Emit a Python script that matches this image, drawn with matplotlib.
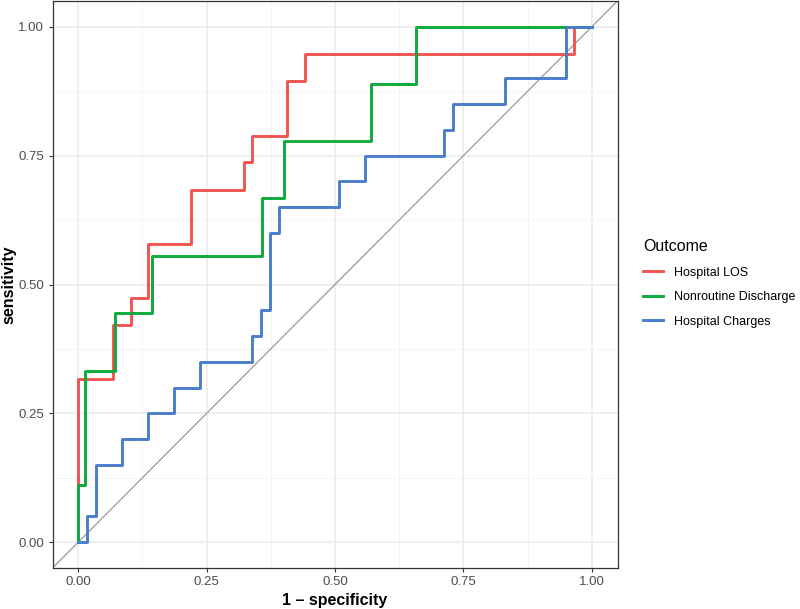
import matplotlib.pyplot as plt

plt.rcParams['font.family'] = ['Liberation Sans', 'DejaVu Sans']

# ROC steps: x = 1 - specificity where each level starts, y = sensitivity
los_x = [0, 0, 0.068, 0.102, 0.136, 0.220, 0.322, 0.339, 0.407, 0.441, 0.966, 1.0]
los_y = [0, 0.316, 0.421, 0.474, 0.579, 0.684, 0.737, 0.789, 0.895, 0.947, 1.0, 1.0]

dis_x = [0, 0, 0.014, 0.071, 0.143, 0.357, 0.400, 0.571, 0.657, 1.0]
dis_y = [0, 0.111, 0.333, 0.444, 0.556, 0.667, 0.778, 0.889, 1.0, 1.0]

chg_x = [0, 0.017, 0.034, 0.085, 0.136, 0.186, 0.237, 0.339, 0.356, 0.373,
         0.390, 0.508, 0.559, 0.712, 0.729, 0.831, 0.949, 1.0]
chg_y = [0, 0.05, 0.15, 0.20, 0.25, 0.30, 0.35, 0.40, 0.45, 0.60,
         0.65, 0.70, 0.75, 0.80, 0.85, 0.90, 1.0, 1.0]

labels = ['Hospital LOS', 'Nonroutine Discharge', 'Hospital Charges']
colors = ['#F2554F', '#0DAA3C', '#4A7DCB']
ticks = [0, 0.25, 0.5, 0.75, 1.0]
tick_labels = ['0.00', '0.25', '0.50', '0.75', '1.00']

fig = plt.figure(figsize=(8, 6.09), dpi=100)
ax = fig.add_axes([52.5 / 800, 1 - 568 / 609, 565 / 800, 567 / 609])

# grid like theme_bw
for v in [0.125, 0.375, 0.625, 0.875]:
    ax.axvline(v, color='#F2F2F2', lw=0.6, zorder=0)
    ax.axhline(v, color='#F2F2F2', lw=0.6, zorder=0)
for v in ticks:
    ax.axvline(v, color='#EBEBEB', lw=1.1, zorder=0)
    ax.axhline(v, color='#EBEBEB', lw=1.1, zorder=0)

ax.axline((0, 0), (1, 1), color='#9A9A9A', lw=0.9, zorder=1)

for xs, ys, lab, c in zip([los_x, dis_x, chg_x], [los_y, dis_y, chg_y], labels, colors):
    ax.step(xs, ys, where='post', color=c, lw=2.1, label=lab, zorder=2)

ax.set_xlim(-0.05, 1.05)
ax.set_ylim(-0.05, 1.05)
ax.set_xticks(ticks)
ax.set_xticklabels(tick_labels)
ax.set_yticks(ticks)
ax.set_yticklabels(tick_labels)
ax.tick_params(length=3, width=0.8, color='#333333', labelcolor='#4D4D4D', labelsize=9.5, pad=3)
for s in ax.spines.values():
    s.set_color('#333333')
    s.set_linewidth(0.9)

ax.set_xlabel('1 \u2013 specificity', fontsize=11.5, fontweight='bold', labelpad=3)
ax.set_ylabel('sensitivity', fontsize=11.5, fontweight='bold')
ax.yaxis.set_label_coords((16 - 52.5) / 565, 0.5)

leg = ax.legend(loc='upper left', bbox_to_anchor=(632 / 800, 1 - 228 / 609),
                bbox_transform=fig.transFigure, frameon=False, title='Outcome',
                fontsize=9, title_fontsize=11.5, handlelength=1.6,
                handletextpad=0.9, labelspacing=1.0, alignment='left')
for h in leg.legend_handles:
    h.set_linewidth(2.1)

fig.savefig('out.png', dpi=100)
